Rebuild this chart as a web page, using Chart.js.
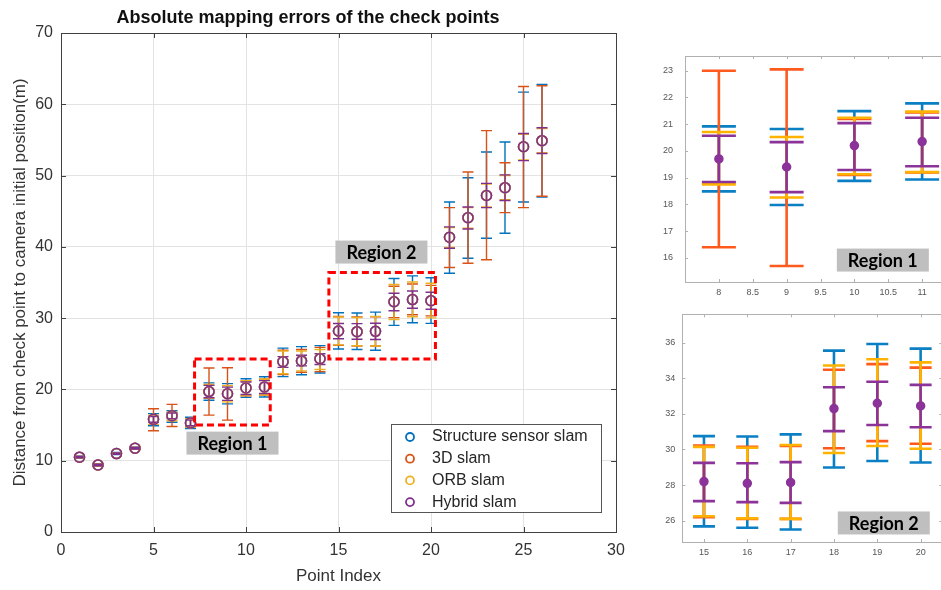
<!DOCTYPE html>
<html>
<head>
<meta charset="utf-8">
<script src="https://cdn.jsdelivr.net/npm/chart.js@4.4.0/dist/chart.umd.min.js"></script>
<style>
    html, body { margin: 0; padding: 0; background: #fff; width: 941px; height: 590px; overflow: hidden; }
    canvas { position: absolute; }
    #mainChart { left: 0; top: 0; }
    #zoomChart1 { left: 655px; top: 45px; }
    #zoomChart2 { left: 655px; top: 305px; }
</style>
</head>
<body>
<canvas id="mainChart" width="640" height="590"></canvas>
<canvas id="zoomChart1" width="310" height="255"></canvas>
<canvas id="zoomChart2" width="300" height="270"></canvas>
<script>
// check point data
const pointIndex = [1, 2, 3, 4, 5, 6, 7, 8, 9, 10, 11, 12, 13, 14, 15, 16, 17, 18, 19, 20, 21, 22, 23, 24, 25, 26];
const checkPoint = [10.5, 9.4, 11.0, 11.75, 15.8, 16.3, 15.3, 19.7, 19.4, 20.2, 20.35, 23.9, 24.0, 24.3, 28.2, 28.1, 28.15, 32.3, 32.6, 32.45, 41.35, 44.1, 47.2, 48.3, 54.05, 54.9];

// Structure sensor slam
const structureLow  = [10.35, 9.25, 10.85, 11.6, 14.9, 15.4, 14.5, 18.49, 17.98, 18.88, 18.93, 21.8, 22.05, 22.3, 25.68, 25.6, 25.5, 28.99, 29.35, 29.27, 36.3, 38.4, 41.2, 41.9, 46.3, 47.0];
const structureHigh = [10.65, 9.55, 11.15, 11.9, 16.6, 17.0, 16.1, 20.92, 20.82, 21.49, 21.78, 25.8, 26.0, 26.15, 30.75, 30.73, 30.85, 35.56, 35.93, 35.67, 46.3, 49.7, 53.3, 54.7, 61.7, 62.8];
// 3D slam
const slam3dLow  = [10.4, 9.3, 10.9, 11.65, 14.2, 14.8, 14.8, 16.4, 15.7, 19.1, 19.2, 22.1, 22.4, 22.5, 26.19, 26.1, 26.1, 30.07, 30.47, 30.32, 37.1, 37.7, 38.2, 44.8, 45.5, 47.1];
const slam3dHigh = [10.6, 9.5, 11.1, 11.85, 17.3, 17.9, 15.9, 23.0, 23.05, 21.2, 21.44, 25.5, 25.6, 25.9, 30.22, 30.15, 30.2, 34.48, 34.8, 34.6, 45.5, 50.5, 56.3, 51.8, 62.5, 62.6];
// ORB slam
const orbLow  = [10.4, 9.3, 10.9, 11.65, 15.1, 15.6, 14.7, 18.75, 18.26, 19.13, 19.21, 22.2, 22.6, 22.8, 26.25, 26.13, 26.1, 29.8, 30.2, 30.04, 39.9, 42.6, 45.6, 46.6, 52.2, 53.2];
const orbHigh = [10.6, 9.5, 11.1, 11.85, 16.4, 16.8, 15.9, 20.71, 20.52, 21.24, 21.47, 25.4, 25.4, 25.6, 30.15, 30.1, 30.25, 34.72, 35.07, 34.9, 42.7, 45.5, 48.8, 50.0, 55.8, 56.6];
// Hybrid slam
const hybridLow  = [10.4, 9.3, 10.9, 11.65, 15.4, 15.9, 14.9, 18.84, 18.46, 19.29, 19.43, 23.1, 23.3, 23.5, 27.1, 27.04, 27.0, 31.03, 31.38, 31.25, 39.8, 42.5, 45.5, 46.5, 52.1, 53.1];
const hybridHigh = [10.6, 9.5, 11.1, 11.85, 16.2, 16.7, 15.7, 20.57, 20.33, 21.04, 21.24, 24.6, 24.8, 25.0, 29.25, 29.23, 29.29, 33.5, 33.81, 33.63, 42.8, 45.6, 48.9, 50.1, 55.9, 56.7];

const seriesNames = ['Structure sensor slam', '3D slam', 'ORB slam', 'Hybrid slam'];

// tick labels
const mainXTicks = [0, 5, 10, 15, 20, 25, 30];
const mainYTicks = [0, 10, 20, 30, 40, 50, 60, 70];
const zoom1XTicks = [8, 8.5, 9, 9.5, 10, 10.5, 11];
const zoom1YTicks = [16, 17, 18, 19, 20, 21, 22, 23];
const zoom2XTicks = [15, 16, 17, 18, 19, 20];
const zoom2YTicks = [26, 28, 30, 32, 34, 36];

const mainColors = ['#0072BD', '#D95319', '#EDB120', '#7E2F8E'];
const zoomColors = ['#0a7fc4', '#ff5a1e', '#ffb300', '#8b3399'];

const lows = [structureLow, slam3dLow, orbLow, hybridLow];
const highs = [structureHigh, slam3dHigh, orbHigh, hybridHigh];

const FONT = '"Liberation Sans", Arial, sans-serif';

// vertical error bars with caps, drawn under the markers
const errorBarPlugin = {
    id: 'errorBars',
    beforeDatasetsDraw(chart, args, opts) {
        const { ctx, chartArea, scales: { x, y } } = chart;
        ctx.save();
        ctx.beginPath();
        ctx.rect(chartArea.left, chartArea.top, chartArea.right - chartArea.left, chartArea.bottom - chartArea.top);
        ctx.clip();
        ctx.lineWidth = opts.lineWidth;
        chart.data.datasets.forEach((ds) => {
            ctx.strokeStyle = ds.barColor;
            pointIndex.forEach((p, i) => {
                if (p < x.min || p > x.max) return;
                const px = x.getPixelForValue(p);
                const yl = y.getPixelForValue(ds.errLow[i]);
                const yh = y.getPixelForValue(ds.errHigh[i]);
                ctx.beginPath();
                ctx.moveTo(px, yl);
                ctx.lineTo(px, yh);
                ctx.moveTo(px - opts.cap, yl);
                ctx.lineTo(px + opts.cap, yl);
                ctx.moveTo(px - opts.cap, yh);
                ctx.lineTo(px + opts.cap, yh);
                ctx.stroke();
            });
        });
        ctx.restore();
    }
};

// box round the axes with inward ticks
const framePlugin = {
    id: 'frame',
    afterDatasetsDraw(chart, args, opts) {
        const { ctx, chartArea: a, scales: { x, y } } = chart;
        ctx.save();
        ctx.strokeStyle = opts.color;
        ctx.lineWidth = 1;
        ctx.beginPath();
        x.ticks.forEach(t => {
            const px = Math.round(x.getPixelForValue(t.value)) + 0.5;
            ctx.moveTo(px, a.bottom); ctx.lineTo(px, a.bottom - opts.tick);
            ctx.moveTo(px, a.top); ctx.lineTo(px, a.top + opts.tick);
        });
        y.ticks.forEach(t => {
            const py = Math.round(y.getPixelForValue(t.value)) + 0.5;
            ctx.moveTo(a.left, py); ctx.lineTo(a.left + opts.tick, py);
            ctx.moveTo(a.right, py); ctx.lineTo(a.right - opts.tick, py);
        });
        ctx.stroke();
        ctx.strokeRect(Math.round(a.left) + 0.5, Math.round(a.top) + 0.5, Math.round(a.right - a.left), Math.round(a.bottom - a.top));
        ctx.restore();
    }
};

// dashed region boxes and grey labels
const regionPlugin = {
    id: 'regions',
    afterDatasetsDraw(chart, args, opts) {
        const { ctx, scales: { x, y } } = chart;
        ctx.save();
        (opts.boxes || []).forEach(b => {
            const x0 = x.getPixelForValue(b.x0), x1 = x.getPixelForValue(b.x1);
            const y0 = y.getPixelForValue(b.y0), y1 = y.getPixelForValue(b.y1);
            ctx.strokeStyle = '#ff0000';
            ctx.lineWidth = 3;
            ctx.setLineDash([7, 4]);
            ctx.strokeRect(x0, y1, x1 - x0, y0 - y1);
        });
        ctx.setLineDash([]);
        (opts.labels || []).forEach(l => {
            const cx = x.getPixelForValue(l.x), cy = y.getPixelForValue(l.y);
            ctx.fillStyle = '#bfbfbf';
            ctx.fillRect(cx - 46, cy - 11.5, 92, 23);
            ctx.fillStyle = '#000';
            ctx.font = 'bold 18px Lato, "Open Sans", sans-serif';
            ctx.textAlign = 'center';
            ctx.textBaseline = 'middle';
            ctx.fillText(l.text, cx, cy + 1);
        });
        ctx.restore();
    }
};

// legend box inside the axes
const boxLegendPlugin = {
    id: 'boxLegend',
    afterDraw(chart, args, opts) {
        const { ctx } = chart;
        ctx.save();
        ctx.fillStyle = '#fff';
        ctx.fillRect(opts.left, opts.top, opts.width, opts.height);
        ctx.strokeStyle = '#555';
        ctx.lineWidth = 1;
        ctx.strokeRect(opts.left + 0.5, opts.top + 0.5, opts.width, opts.height);
        ctx.font = '16px ' + FONT;
        ctx.textBaseline = 'middle';
        ctx.textAlign = 'left';
        chart.data.datasets.forEach((ds, i) => {
            const cy = opts.top + 13 + i * 21.7;
            ctx.strokeStyle = ds.borderColor;
            ctx.lineWidth = 1.8;
            ctx.beginPath();
            ctx.arc(opts.left + 19, cy, 4, 0, Math.PI * 2);
            ctx.stroke();
            ctx.fillStyle = '#262626';
            ctx.fillText(ds.label, opts.left + 41, cy);
        });
        ctx.restore();
    }
};

function buildDatasets(colors, zoom) {
    return seriesNames.map((name, s) => ({
        label: name,
        data: pointIndex.map((p, i) => ({ x: p, y: checkPoint[i] })),
        errLow: lows[s],
        errHigh: highs[s],
        barColor: colors[s],
        borderColor: colors[s],
        backgroundColor: zoom ? colors[s] : 'rgba(0,0,0,0)',
        borderWidth: 1.5,
        pointRadius: zoom ? (s === 3 ? 4 : 0) : 5,
        pointStyle: 'circle',
        showLine: false,
        order: 3 - s
    }));
}

const tickList = (list) => (scale) => { scale.ticks = list.map(v => ({ value: v })); };
const fixSize = (prop, size) => (s) => {
    s[prop] = size;
    s.paddingTop = 0; s.paddingBottom = 0; s.paddingLeft = 0; s.paddingRight = 0;
};

new Chart(document.getElementById('mainChart'), {
    type: 'scatter',
    data: { datasets: buildDatasets(mainColors, false) },
    options: {
        responsive: false,
        animation: false,
        layout: { padding: { left: 0, right: 24, top: 0, bottom: 0 } },
        scales: {
            x: {
                type: 'linear', min: 0, max: 30,
                afterBuildTicks: tickList(mainXTicks),
                afterFit: (s) => { s.height = 58; },
                ticks: { color: '#333', padding: 9, font: { family: FONT, size: 16 } },
                grid: { color: '#e3e3e3', drawTicks: false },
                border: { display: false },
                title: { display: true, text: 'Point Index', color: '#333', font: { family: FONT, size: 17 }, padding: { top: 0, bottom: 3 } }
            },
            y: {
                type: 'linear', min: 0, max: 70,
                afterBuildTicks: tickList(mainYTicks),
                afterFit: (s) => { s.width = 61; },
                ticks: { color: '#333', padding: 8, font: { family: FONT, size: 16 } },
                grid: { color: '#e3e3e3', drawTicks: false },
                border: { display: false },
                title: { display: true, text: 'Distance from check point to camera initial position(m)', color: '#333', font: { family: FONT, size: 17 }, padding: { top: 10, bottom: 0 } }
            }
        },
        plugins: {
            legend: { display: false },
            tooltip: { enabled: false },
            title: {
                display: true,
                text: 'Absolute mapping errors of the check points',
                color: '#111',
                font: { family: FONT, size: 18, weight: 'bold' },
                padding: { top: 7, bottom: 4.4 }
            },
            errorBars: { lineWidth: 1.4, cap: 5.5 },
            frame: { color: '#404040', tick: 5 },
            regions: {
                boxes: [
                    { x0: 7.22, x1: 11.31, y0: 15.0, y1: 24.27 },
                    { x0: 14.48, x1: 20.24, y0: 24.27, y1: 36.4 }
                ],
                labels: [
                    { x: 9.27, y: 12.47, text: 'Region 1' },
                    { x: 17.32, y: 39.27, text: 'Region 2' }
                ]
            },
            boxLegend: { left: 391, top: 424, width: 210, height: 88 }
        }
    },
    plugins: [errorBarPlugin, framePlugin, regionPlugin, boxLegendPlugin]
});

function zoomOptions(cfg) {
    return {
        responsive: false,
        animation: false,
        layout: { padding: { left: 0, right: cfg.padRight, top: cfg.padTop, bottom: 0 } },
        scales: {
            x: {
                type: 'linear', min: cfg.xMin, max: cfg.xMax,
                afterBuildTicks: tickList(cfg.xTicks),
                afterFit: fixSize('height', cfg.xHeight),
                ticks: { color: '#555', padding: 5, font: { family: FONT, size: 9 }, callback: (v) => String(v) },
                grid: { display: false, drawTicks: false },
                border: { display: false }
            },
            y: {
                type: 'linear', min: cfg.yMin, max: cfg.yMax,
                afterBuildTicks: tickList(cfg.yTicks),
                afterFit: fixSize('width', cfg.yWidth),
                ticks: { color: '#555', padding: cfg.yPad, font: { family: FONT, size: 9 }, callback: (v) => String(v) },
                grid: { display: false, drawTicks: false },
                border: { display: false }
            }
        },
        plugins: {
            legend: { display: false },
            tooltip: { enabled: false },
            errorBars: { lineWidth: 2.6, cap: cfg.cap },
            frame: { color: '#b0b0b0', tick: 3 },
            regions: { labels: [cfg.label] }
        }
    };
}

new Chart(document.getElementById('zoomChart1'), {
    type: 'scatter',
    data: { datasets: buildDatasets(zoomColors, true) },
    options: zoomOptions({
        xMin: 7.5, xMax: 11.5, yMin: 15.1, yMax: 23.55,
        xTicks: zoom1XTicks, yTicks: zoom1YTicks,
        padTop: 11, padRight: 9, xHeight: 18, yWidth: 30, yPad: 12, cap: 17,
        label: { x: 10.42, y: 15.92, text: 'Region 1' }
    }),
    plugins: [errorBarPlugin, framePlugin, regionPlugin]
});

new Chart(document.getElementById('zoomChart2'), {
    type: 'scatter',
    data: { datasets: buildDatasets(zoomColors, true) },
    options: zoomOptions({
        xMin: 14.5, xMax: 20.5, yMin: 24.8, yMax: 37.6,
        xTicks: zoom2XTicks, yTicks: zoom2YTicks,
        padTop: 9.3, padRight: 12.7, xHeight: 33, yWidth: 27.3, yPad: 7, cap: 11,
        label: { x: 19.15, y: 25.87, text: 'Region 2' }
    }),
    plugins: [errorBarPlugin, framePlugin, regionPlugin]
});
</script>
</body>
</html>
